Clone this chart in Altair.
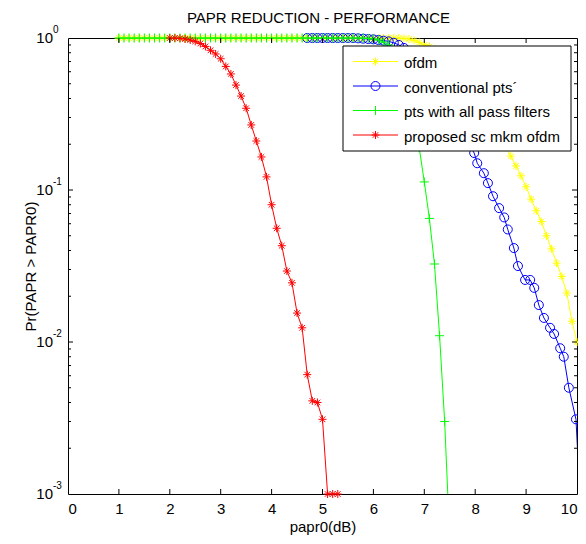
import altair as alt
import pandas as pd

# ---------------- data ----------------
ofdm_x = [1.0, 1.1, 1.2, 1.3, 1.4, 1.5, 1.6, 1.7, 1.8, 1.9,
          2.0, 2.1, 2.2, 2.3, 2.4, 2.5, 2.6, 2.7, 2.8, 2.9,
          3.0, 3.1, 3.2, 3.3, 3.4, 3.5, 3.6, 3.7, 3.8, 3.9,
          4.0, 4.1, 4.2, 4.3, 4.4, 4.5, 4.6, 4.7, 4.8, 4.9,
          5.0, 5.1, 5.2, 5.3, 5.4, 5.5, 5.6, 5.7, 5.8, 5.9,
          6.0, 6.1, 6.2, 6.3, 6.4, 6.5, 6.6, 6.7, 6.8, 6.9,
          7.0, 7.1, 7.2, 7.3, 7.4, 7.5, 7.6, 7.7, 7.8, 7.9,
          8.0, 8.1, 8.2, 8.3, 8.4, 8.5, 8.6, 8.7, 8.8, 8.9,
          9.0, 9.1, 9.2, 9.3, 9.4, 9.5, 9.6, 9.7, 9.8, 9.9, 10.0]
ofdm_y = [1, 1, 1, 1, 1, 1, 1, 1, 1, 1,
          1, 1, 1, 1, 1, 1, 1, 1, 1, 1,
          1, 1, 1, 1, 1, 1, 1, 1, 1, 1,
          1, 1, 1, 1, 1, 1, 1, 1, 1, 1,
          1, 1, 1, 1, 1, 1, 1, 1, 1, 1,
          1, 1, 1, 1, 1, 1, 0.995, 0.985, 0.965, 0.935,
          0.9, 0.88, 0.85, 0.81, 0.77, 0.72, 0.66, 0.6, 0.54, 0.48,
          0.43, 0.38, 0.33, 0.29, 0.25, 0.22, 0.19, 0.167, 0.144, 0.124,
          0.105, 0.087, 0.073, 0.062, 0.05, 0.041, 0.033, 0.027, 0.021, 0.0137, 0.01]

conv_x = [4.7, 4.8, 4.9, 5.0, 5.1, 5.2, 5.3, 5.4, 5.5, 5.6,
          5.7, 5.8, 5.9, 6.0, 6.1, 6.2, 6.3, 6.4, 6.5, 6.6,
          6.7, 6.8, 6.9, 7.0, 7.1, 7.2, 7.3, 7.4, 7.5, 7.6,
          7.7, 7.8, 7.98, 8.04, 8.17, 8.25, 8.35, 8.47, 8.57, 8.64,
          8.76, 8.84, 8.98, 9.08, 9.16, 9.25, 9.35, 9.47, 9.55, 9.67,
          9.74, 9.84, 9.98, 10.1]
conv_y = [1, 1, 1, 1, 1, 1, 1, 1, 1, 1,
          0.995, 0.99, 0.985, 0.98, 0.97, 0.96, 0.95, 0.93, 0.9, 0.86,
          0.81, 0.76, 0.7, 0.64, 0.58, 0.52, 0.46, 0.4, 0.35, 0.3,
          0.26, 0.22, 0.175, 0.15, 0.129, 0.111, 0.091, 0.076, 0.066, 0.055,
          0.0415, 0.0316, 0.0256, 0.0256, 0.0227, 0.0175, 0.0144, 0.0124, 0.0113, 0.0091,
          0.008, 0.005, 0.0031, 0.0005]

apf_x = [1.0, 1.1, 1.2, 1.3, 1.4, 1.5, 1.6, 1.7, 1.8, 1.9,
         2.0, 2.1, 2.2, 2.3, 2.4, 2.5, 2.6, 2.7, 2.8, 2.9,
         3.0, 3.1, 3.2, 3.3, 3.4, 3.5, 3.6, 3.7, 3.8, 3.9,
         4.0, 4.1, 4.2, 4.3, 4.4, 4.5, 4.6, 4.7, 4.8, 4.9,
         5.0, 5.1, 5.2, 5.3, 5.4, 5.5, 5.6, 5.7, 5.8, 5.9,
         6.0, 6.1, 6.2, 6.3, 6.4, 6.5, 6.6, 6.7, 6.8, 6.9,
         7.0, 7.1, 7.2, 7.3, 7.4, 7.5]
apf_y = [1, 1, 1, 1, 1, 1, 1, 1, 1, 1,
         1, 1, 1, 1, 1, 1, 1, 1, 1, 1,
         1, 1, 1, 1, 1, 1, 1, 1, 1, 1,
         1, 1, 1, 1, 1, 1, 1, 1, 1, 1,
         1, 1, 1, 1, 1, 1, 1, 1, 1, 0.995,
         0.985, 0.97, 0.94, 0.9, 0.83, 0.73, 0.6, 0.46, 0.32, 0.19,
         0.113, 0.065, 0.0326, 0.011, 0.003, 0.0005]

prop_x = [2.0, 2.1, 2.2, 2.3, 2.4, 2.5, 2.6, 2.7, 2.8, 2.9,
          3.0, 3.1, 3.2, 3.3, 3.4, 3.5, 3.6, 3.7, 3.8, 3.9,
          4.0, 4.1, 4.2, 4.3, 4.4, 4.5, 4.6, 4.7, 4.8, 4.9,
          5.0, 5.1, 5.2, 5.3]
prop_y = [1, 1, 0.995, 0.985, 0.97, 0.95, 0.92, 0.88, 0.83, 0.785,
          0.73, 0.65, 0.58, 0.49, 0.415, 0.345, 0.268, 0.21, 0.165, 0.122,
          0.08, 0.056, 0.043, 0.0293, 0.0245, 0.0155, 0.0124, 0.0061, 0.0041, 0.004,
          0.0031, 0.001, 0.001, 0.001]

series_names = ["ofdm", "conventional pts\u00b4", "pts with all pass filters", "proposed sc mkm ofdm"]
series_colors = ["#FFFF00", "#0000FF", "#00FF00", "#FF0000"]
chart_title = "PAPR REDUCTION - PERFORMANCE"

x_ticks = [0, 1, 2, 3, 4, 5, 6, 7, 8, 9, 10]
y_major = [0.001, 0.01, 0.1, 1]
y_exps = ["-3", "-2", "-1", "0"]
y_minor = [0.002, 0.003, 0.004, 0.005, 0.006, 0.007, 0.008, 0.009,
           0.02, 0.03, 0.04, 0.05, 0.06, 0.07, 0.08, 0.09,
           0.2, 0.3, 0.4, 0.5, 0.6, 0.7, 0.8, 0.9]

# ---------------- styling ----------------
W, H = 509, 456
FONT = "Liberation Sans"
ASTER = "M-1,0L1,0M0,-1L0,1M-0.7,-0.7L0.7,0.7M-0.7,0.7L0.7,-0.7"
PLUS = "M-1,0L1,0M0,-1L0,1"
shapes = [ASTER, "circle", PLUS, ASTER]
sizes = [64, 81, 81, 64]

xscale = alt.Scale(domain=[0, 10], nice=False, zero=False)
yscale = alt.Scale(type="log", domain=[0.001, 1], nice=False)
xaxis = alt.Axis(values=x_ticks, format="d", ticks=False, domain=False, grid=False,
                 labelFontSize=15, labelFont=FONT, labelColor="black", labelPadding=7,
                 title="papr0(dB)", titleFontSize=15, titleFont=FONT, titleColor="black",
                 titleFontWeight="normal", titlePadding=3)
yaxis = alt.Axis(values=y_major, labels=False, ticks=False, domain=False, grid=False,
                 title="Pr(PAPR > PAPR0)", titleFontSize=15, titleFont=FONT, titleColor="black",
                 titleFontWeight="normal", titlePadding=30)


def X():
    return alt.X("x:Q", scale=xscale, axis=xaxis)


def Y():
    return alt.Y("y:Q", scale=yscale, axis=yaxis)


layers = []
for xs, ys, col, shp, sz in zip([ofdm_x, conv_x, apf_x, prop_x],
                                [ofdm_y, conv_y, apf_y, prop_y],
                                series_colors, shapes, sizes):
    df = pd.DataFrame({"x": xs, "y": ys})
    base = alt.Chart(df)
    layers.append(base.mark_line(color=col, strokeWidth=1, clip=True).encode(x=X(), y=Y()))
    layers.append(
        base.transform_filter("datum.y >= 0.001 && datum.x <= 10")
        .mark_point(shape=shp, size=sz, filled=False, stroke=col, strokeWidth=1, opacity=1)
        .encode(x=X(), y=Y())
    )

# inward ticks (box style)
xt_df = pd.DataFrame({"x": x_ticks[1:-1]})
ymaj_df = pd.DataFrame({"y": y_major[1:-1]})
ymin_df = pd.DataFrame({"y": y_minor})
tick_style = dict(color="black", strokeWidth=1)
layers += [
    alt.Chart(xt_df).mark_rule(**tick_style).encode(x=X(), y=alt.value(H), y2=alt.value(H - 5)),
    alt.Chart(xt_df).mark_rule(**tick_style).encode(x=X(), y=alt.value(0), y2=alt.value(5)),
    alt.Chart(ymaj_df).mark_rule(**tick_style).encode(y=Y(), x=alt.value(0), x2=alt.value(5)),
    alt.Chart(ymaj_df).mark_rule(**tick_style).encode(y=Y(), x=alt.value(W - 5), x2=alt.value(W)),
    alt.Chart(ymin_df).mark_rule(**tick_style).encode(y=Y(), x=alt.value(0), x2=alt.value(3)),
    alt.Chart(ymin_df).mark_rule(**tick_style).encode(y=Y(), x=alt.value(W - 3), x2=alt.value(W)),
]

# y tick labels 10^k
ylab_df = pd.DataFrame({"y": y_major, "e": y_exps})
layers += [
    alt.Chart(ylab_df).mark_text(align="right", baseline="middle", fontSize=15, font=FONT, color="black")
    .encode(y=Y(), x=alt.value(-15), text=alt.value("10")),
    alt.Chart(ylab_df).mark_text(align="left", baseline="middle", fontSize=10, font=FONT, color="black", dy=-8)
    .encode(y=Y(), x=alt.value(-15), text="e:N"),
]

# chart title as text
title_df = pd.DataFrame({"t": [chart_title]})
layers.append(
    alt.Chart(title_df).mark_text(align="center", baseline="alphabetic", fontSize=15, font=FONT, color="black")
    .encode(x=alt.value(W / 2 - 4), y=alt.value(-15), text="t:N")
)

# legend box
leg_df = pd.DataFrame({"label": series_names})
layers.append(
    alt.Chart(leg_df).transform_filter(alt.datum.label == series_names[0])
    .mark_rect(fill="white", stroke="black", strokeWidth=1)
    .encode(x=alt.value(275), x2=alt.value(503), y=alt.value(8), y2=alt.value(113))
)
row_y = [23.5, 48, 72.5, 97]
for i, name in enumerate(series_names):
    b = alt.Chart(leg_df).transform_filter(alt.datum.label == name)
    layers.append(b.mark_rule(color=series_colors[i], strokeWidth=1)
                  .encode(x=alt.value(285), x2=alt.value(330), y=alt.value(row_y[i])))
    layers.append(b.mark_point(shape=shapes[i], size=sizes[i], filled=False, stroke=series_colors[i],
                               strokeWidth=1, opacity=1)
                  .encode(x=alt.value(307.5), y=alt.value(row_y[i])))
    layers.append(b.mark_text(align="left", baseline="middle", fontSize=15, font=FONT, color="black")
                  .encode(x=alt.value(336), y=alt.value(row_y[i] + 1.5), text="label:N"))

chart = alt.layer(*layers).properties(
    width=W, height=H,
    autosize=alt.AutoSizeParams(type="none"),
    padding={"left": 60, "top": 30, "right": 1, "bottom": 42},
).configure_view(stroke="black", strokeWidth=1)

chart.save("out.html", embed_options={"renderer": "svg", "actions": False})
